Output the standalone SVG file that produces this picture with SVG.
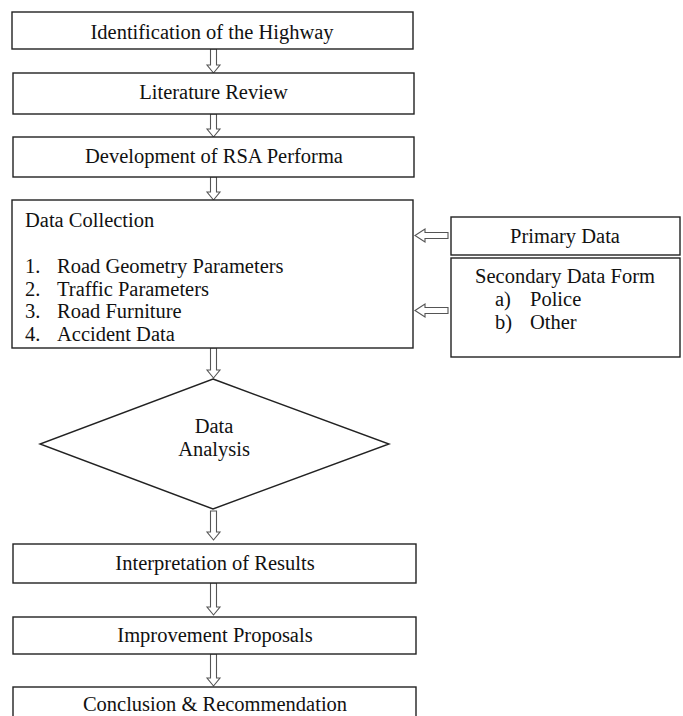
<svg xmlns="http://www.w3.org/2000/svg" width="683" height="716" viewBox="0 0 683 716">
<style>
.box{fill:#fff;stroke:#222;stroke-width:1.4}
.arr{fill:#fff;stroke:#555;stroke-width:1.1}
text{font-family:'Liberation Serif','Times New Roman',Times,serif;font-size:20.5px;fill:#111}
.c{text-anchor:middle}
</style>
<rect width="683" height="716" fill="#fff"/>
<g id="connectors">
<polygon class="arr" points="210.5,49 216.5,49 216.5,65 220,65 213.5,73 207,65 210.5,65"/>
<polygon class="arr" points="210.5,114 216.5,114 216.5,129 220,129 213.5,137 207,129 210.5,129"/>
<polygon class="arr" points="210.5,177 216.5,177 216.5,192 220,192 213.5,200 207,192 210.5,192"/>
<polygon class="arr" points="210.5,348 216.5,348 216.5,370 220,370 213.5,378 207,370 210.5,370"/>
<polygon class="arr" points="210.5,511 216.5,511 216.5,532 220,532 213.5,540 207,532 210.5,532"/>
<polygon class="arr" points="210.5,583 216.5,583 216.5,607 220,607 213.5,615 207,607 210.5,607"/>
<polygon class="arr" points="210.5,654 216.5,654 216.5,678 220,678 213.5,686 207,678 210.5,678"/>
<polygon class="arr" points="448,232.5 448,238.5 425,238.5 425,242 415,235.5 425,229 425,232.5"/>
<polygon class="arr" points="448,307.5 448,313.5 425,313.5 425,317 415,310.5 425,304 425,307.5"/>
</g>
<g id="identification">
<rect class="box" x="12" y="12" width="401" height="37"/>
<text class="c" x="212" y="39">Identification of the Highway</text>
</g>
<g id="literature">
<rect class="box" x="13" y="73" width="401" height="41"/>
<text class="c" x="213.5" y="99">Literature Review</text>
</g>
<g id="development">
<rect class="box" x="13" y="137" width="401" height="40"/>
<text class="c" x="214" y="163">Development of RSA Performa</text>
</g>
<g id="data-collection">
<rect class="box" x="12" y="200" width="401" height="148"/>
<text x="25" y="227">Data Collection</text>
<text x="25" y="273">1.</text><text x="57" y="273">Road Geometry Parameters</text>
<text x="25" y="296">2.</text><text x="57" y="296">Traffic Parameters</text>
<text x="25" y="318">3.</text><text x="57" y="318">Road Furniture</text>
<text x="25" y="341">4.</text><text x="57" y="341">Accident Data</text>
</g>
<g id="primary">
<rect class="box" x="451" y="217" width="229" height="38"/>
<text class="c" x="565" y="243">Primary Data</text>
</g>
<g id="secondary">
<rect class="box" x="451" y="258" width="229" height="99"/>
<text class="c" x="565" y="283">Secondary Data Form</text>
<text x="495" y="306">a)</text><text x="530" y="306">Police</text>
<text x="495" y="329">b)</text><text x="530" y="329">Other</text>
</g>
<g id="analysis">
<polygon class="box" points="213,379 389,444 213,509 40,444"/>
<text class="c" x="214" y="433">Data</text>
<text class="c" x="214" y="456">Analysis</text>
</g>
<g id="interpretation">
<rect class="box" x="13" y="544" width="403" height="39"/>
<text class="c" x="215" y="570">Interpretation of Results</text>
</g>
<g id="improvement">
<rect class="box" x="13" y="617" width="403" height="37"/>
<text class="c" x="215" y="642">Improvement Proposals</text>
</g>
<g id="conclusion">
<rect class="box" x="13" y="687" width="403" height="40"/>
<text class="c" x="215" y="711">Conclusion &amp; Recommendation</text>
</g>
</svg>
